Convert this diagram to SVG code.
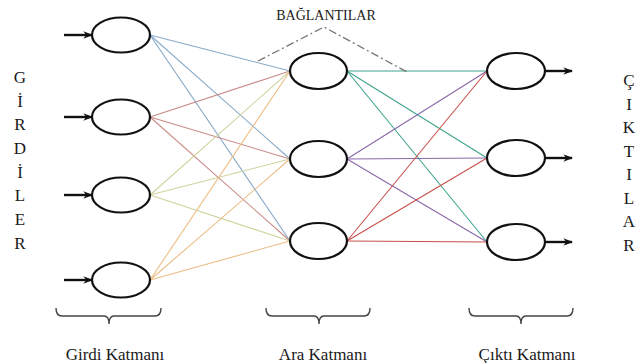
<svg xmlns="http://www.w3.org/2000/svg" width="636" height="363" viewBox="0 0 636 363">
<style>
.node{fill:#fff;stroke:#111;stroke-width:2.2}
.arr{stroke:#111;stroke-width:2.4;fill:none}
.c{fill:none;stroke-width:1.1}
.br{fill:none;stroke:#444;stroke-width:1.4}
.b1{stroke:#86a9c8}.b2{stroke:#c98a86}.b3{stroke:#cfd39c}.b4{stroke:#ecbd86}
.h1{stroke:#3fa58d}.h2{stroke:#8a68a8}.h3{stroke:#c9504a}
</style>
<defs>
<marker id="ah" viewBox="0 0 10 10" refX="9" refY="5" markerWidth="4" markerHeight="4" orient="auto" markerUnits="strokeWidth">
<path d="M0,1 L10,5 L0,9 L3,5 z" fill="#111"/>
</marker>
</defs>
<rect width="636" height="363" fill="#fff"/>
<g id="connectors">
<line class="c b1" x1="150" y1="35" x2="290" y2="71"/>
<line class="c b1" x1="150" y1="35" x2="290" y2="159"/>
<line class="c b1" x1="150" y1="35" x2="290" y2="241"/>
<line class="c b2" x1="150" y1="117" x2="290" y2="71"/>
<line class="c b2" x1="150" y1="117" x2="290" y2="159"/>
<line class="c b2" x1="150" y1="117" x2="290" y2="241"/>
<line class="c b3" x1="150" y1="195" x2="290" y2="71"/>
<line class="c b3" x1="150" y1="195" x2="290" y2="159"/>
<line class="c b3" x1="150" y1="195" x2="290" y2="241"/>
<line class="c b4" x1="150" y1="280" x2="290" y2="71"/>
<line class="c b4" x1="150" y1="280" x2="290" y2="159"/>
<line class="c b4" x1="150" y1="280" x2="290" y2="241"/>
<line class="c h1" x1="347" y1="71" x2="487" y2="71"/>
<line class="c h1" x1="347" y1="71" x2="487" y2="158"/>
<line class="c h1" x1="347" y1="71" x2="487" y2="242"/>
<line class="c h2" x1="347" y1="159" x2="487" y2="71"/>
<line class="c h2" x1="347" y1="159" x2="487" y2="158"/>
<line class="c h2" x1="347" y1="159" x2="487" y2="242"/>
<line class="c h3" x1="347" y1="241" x2="487" y2="71"/>
<line class="c h3" x1="347" y1="241" x2="487" y2="158"/>
<line class="c h3" x1="347" y1="241" x2="487" y2="242"/>
<polyline points="258,61 324,27 407,72" fill="none" stroke="#777" stroke-width="1.3" stroke-dasharray="8,3,2,3"/>
<line class="arr" x1="64" y1="35" x2="92" y2="35" marker-end="url(#ah)"/>
<line class="arr" x1="64" y1="117" x2="92" y2="117" marker-end="url(#ah)"/>
<line class="arr" x1="64" y1="195" x2="92" y2="195" marker-end="url(#ah)"/>
<line class="arr" x1="64" y1="280" x2="92" y2="280" marker-end="url(#ah)"/>
<line class="arr" x1="545" y1="71" x2="572" y2="71" marker-end="url(#ah)"/>
<line class="arr" x1="545" y1="158" x2="572" y2="158" marker-end="url(#ah)"/>
<line class="arr" x1="545" y1="242" x2="572" y2="242" marker-end="url(#ah)"/>
</g>
<g id="in1"><ellipse class="node" cx="121" cy="35" rx="29" ry="17.5"/></g>
<g id="in2"><ellipse class="node" cx="121" cy="117" rx="29" ry="17.5"/></g>
<g id="in3"><ellipse class="node" cx="121" cy="195" rx="29" ry="17.5"/></g>
<g id="in4"><ellipse class="node" cx="121" cy="280" rx="29" ry="17.5"/></g>
<g id="hid1"><ellipse class="node" cx="318.5" cy="71" rx="28.5" ry="18"/></g>
<g id="hid2"><ellipse class="node" cx="318.5" cy="159" rx="28.5" ry="18"/></g>
<g id="hid3"><ellipse class="node" cx="318.5" cy="241" rx="28.5" ry="18"/></g>
<g id="out1"><ellipse class="node" cx="516" cy="71" rx="29" ry="18"/></g>
<g id="out2"><ellipse class="node" cx="516" cy="158" rx="29" ry="18"/></g>
<g id="out3"><ellipse class="node" cx="516" cy="242" rx="29" ry="18"/></g>
<g font-family="'Liberation Serif', serif" fill="#1a1a1a">
<g id="label-baglantilar"><text x="326" y="20" font-size="14" text-anchor="middle">BAĞLANTILAR</text></g>
<g id="girdiler" font-size="17" text-anchor="middle">
<text x="20" y="83">G</text>
<text x="20" y="106.5">İ</text>
<text x="20" y="130">R</text>
<text x="20" y="154">D</text>
<text x="20" y="177.5">İ</text>
<text x="20" y="201">L</text>
<text x="20" y="225">E</text>
<text x="20" y="248.5">R</text>
</g>
<g id="ciktilar" font-size="17" text-anchor="middle">
<text x="629" y="86">Ç</text>
<text x="629" y="109.5">I</text>
<text x="629" y="133">K</text>
<text x="629" y="156.5">T</text>
<text x="629" y="180">I</text>
<text x="629" y="203.5">L</text>
<text x="629" y="227">A</text>
<text x="629" y="250.5">R</text>
</g>
<g id="layer-labels" font-size="17" text-anchor="middle">
<text x="115" y="360">Girdi Katmanı</text>
<text x="323" y="360">Ara Katmanı</text>
<text x="527" y="360">Çıktı Katmanı</text>
</g>
</g>
<g id="brackets">
<path class="br" d="M56,308 Q56,316 62,316 H104 Q109,316 109,324 Q109,316 114,316 H155 Q161,316 161,308"/>
<path class="br" d="M266,308 Q266,316 272,316 H314 Q319,316 319,324 Q319,316 324,316 H364 Q370,316 370,308"/>
<path class="br" d="M469,308 Q469,316 475,316 H516 Q521,316 521,324 Q521,316 526,316 H567 Q573,316 573,308"/>
</g>
</svg>
